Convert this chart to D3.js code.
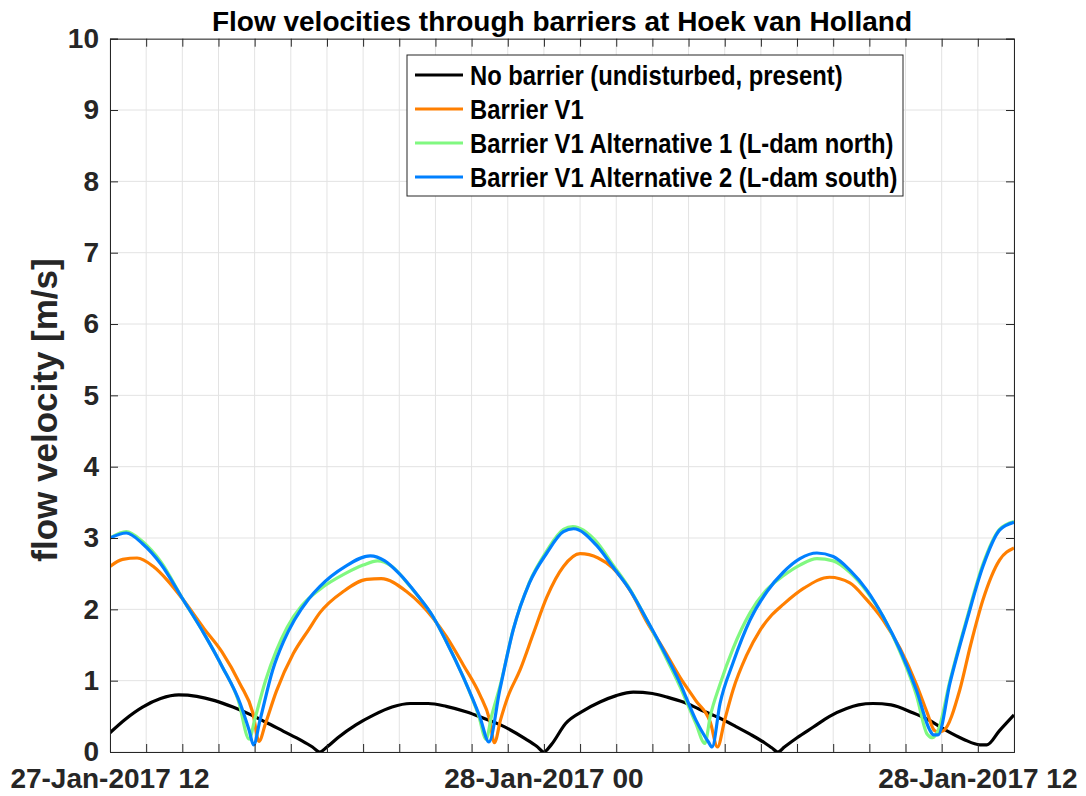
<!DOCTYPE html>
<html>
<head>
<meta charset="utf-8">
<script src="https://cdn.jsdelivr.net/npm/d3@7"></script>
<style>
  body { margin: 0; background: #fff; }
  text { font-family: "Liberation Sans", Arial, Helvetica, sans-serif; font-weight: bold; }
</style>
</head>
<body>
<div id="chart"></div>
<script>
// hours after 27-Jan-2017 12:00, velocity in m/s
var hoursNoBarrier = [0, 0.4, 0.9, 1.4, 1.9, 2.4, 2.9, 3.4, 3.9, 4.3, 4.8, 5.3, 5.6, 5.8, 6.0,
  6.3, 6.8, 7.3, 7.8, 8.3, 8.8, 9.3, 9.87, 10.3, 10.8, 11.5, 11.8, 12.0, 12.2,
  12.6, 13.1, 13.55, 14.0, 14.47, 15.0, 15.4, 15.85, 16.3, 16.8, 17.3, 17.7, 18.1, 18.3, 18.47, 18.65,
  19.0, 19.45, 19.9, 20.37, 20.7, 21.1, 21.6, 22.2, 22.6, 23.1, 23.6, 24.06, 24.25, 24.6, 25.0];
var velNoBarrier = [0.27, 0.45, 0.63, 0.75, 0.8, 0.78, 0.72, 0.63, 0.52, 0.42, 0.29, 0.16, 0.07, 0.0, 0.07,
  0.2, 0.38, 0.52, 0.63, 0.68, 0.68, 0.64, 0.56, 0.48, 0.38, 0.18, 0.08, 0.0, 0.1,
  0.4, 0.58, 0.7, 0.79, 0.84, 0.82, 0.77, 0.7, 0.6, 0.49, 0.36, 0.25, 0.13, 0.06, 0.0, 0.07,
  0.2, 0.35, 0.5, 0.61, 0.66, 0.68, 0.66, 0.55, 0.46, 0.31, 0.18, 0.1, 0.1, 0.3, 0.52];

var hoursV1 = [0, 0.35, 0.75, 1.2, 1.6, 2.03, 2.6, 3.1, 3.6, 3.95, 4.12, 4.3, 4.6, 5.07, 5.5, 5.8, 6.45, 7.1, 7.5, 8.2, 8.6, 8.93,
  9.3, 9.77, 10.23, 10.5, 10.63, 10.8, 11.0, 11.34, 11.7, 12.08, 12.54, 13.0, 13.5, 13.9, 14.4, 14.85,
  15.3, 15.76, 16.2, 16.6, 16.8, 17.0, 17.23, 17.6, 17.98, 18.3, 18.62, 19.2, 19.9, 20.46, 20.9, 21.38, 21.85,
  22.3, 22.6, 22.8, 22.9, 23.05, 23.5, 23.8, 24.14, 24.6, 25.0];
var velV1 = [2.6, 2.7, 2.72, 2.6, 2.4, 2.13, 1.73, 1.4, 0.95, 0.55, 0.15, 0.4, 0.85, 1.38, 1.72, 1.95, 2.25, 2.42, 2.43, 2.25, 2.07, 1.88,
  1.62, 1.22, 0.8, 0.45, 0.13, 0.45, 0.77, 1.15, 1.65, 2.17, 2.6, 2.78, 2.72, 2.58, 2.25, 1.82,
  1.45, 1.05, 0.72, 0.42, 0.07, 0.45, 0.87, 1.35, 1.71, 1.92, 2.07, 2.3, 2.45, 2.37, 2.15, 1.85, 1.45,
  0.95, 0.55, 0.3, 0.28, 0.3, 0.87, 1.5, 2.13, 2.69, 2.86];

var hoursAlt1 = [0, 0.45, 0.9, 1.4, 2.03, 2.6, 3.1, 3.55, 3.85, 4.0, 4.3, 4.6, 4.9, 5.3, 5.8, 6.5, 7.0, 7.4, 7.8, 8.3, 8.93,
  9.3, 9.77, 10.2, 10.4, 10.55, 10.8, 11.15, 11.6, 12.08, 12.54, 12.8, 13.45, 13.9, 14.38, 14.85,
  15.3, 15.76, 16.2, 16.45, 16.6, 16.87, 17.23, 17.7, 18.17, 18.62, 19.08, 19.55, 20.0, 20.46, 20.93, 21.38, 21.85,
  22.3, 22.6, 22.75, 22.9, 23.23, 23.7, 24.14, 24.6, 25.0];
var velAlt1 = [3.0, 3.09, 2.95, 2.67, 2.13, 1.66, 1.2, 0.72, 0.18, 0.45, 1.0, 1.42, 1.75, 2.05, 2.28, 2.5, 2.62, 2.68, 2.6, 2.32, 1.9,
  1.55, 1.05, 0.5, 0.18, 0.5, 0.95, 1.72, 2.38, 2.82, 3.12, 3.16, 2.95, 2.63, 2.28, 1.85,
  1.4, 0.92, 0.4, 0.12, 0.5, 0.95, 1.45, 1.95, 2.28, 2.47, 2.62, 2.71, 2.68, 2.52, 2.25, 1.9, 1.4,
  0.8, 0.25, 0.2, 0.3, 1.0, 1.88, 2.63, 3.12, 3.23];

var hoursAlt2 = [0, 0.45, 0.9, 1.4, 2.03, 2.6, 3.1, 3.6, 3.85, 3.97, 4.15, 4.5, 4.8, 5.1, 5.5, 5.8, 6.5, 7.2, 7.6, 8.0, 8.5, 8.93,
  9.3, 9.77, 10.23, 10.48, 10.78, 11.15, 11.6, 12.08, 12.54, 12.82, 13.45, 13.9, 14.38, 14.85,
  15.3, 15.76, 16.2, 16.55, 16.65, 16.87, 17.23, 17.7, 18.17, 18.62, 19.08, 19.55, 20.0, 20.46, 20.93, 21.38, 21.85,
  22.3, 22.68, 22.77, 22.9, 23.23, 23.7, 24.14, 24.6, 25.0];
var velAlt2 = [3.0, 3.07, 2.92, 2.64, 2.13, 1.66, 1.2, 0.68, 0.3, 0.1, 0.45, 1.15, 1.55, 1.85, 2.15, 2.32, 2.6, 2.75, 2.68, 2.5, 2.2, 1.9,
  1.55, 1.05, 0.49, 0.14, 0.87, 1.71, 2.37, 2.79, 3.09, 3.13, 2.9, 2.6, 2.27, 1.85,
  1.43, 0.97, 0.45, 0.14, 0.07, 0.68, 1.25, 1.85, 2.25, 2.52, 2.71, 2.79, 2.74, 2.55, 2.27, 1.9, 1.43,
  0.87, 0.3, 0.24, 0.24, 0.97, 1.85, 2.6, 3.11, 3.22];

var seriesNames = ["No barrier (undisturbed, present)", "Barrier V1",
  "Barrier V1 Alternative 1 (L-dam north)", "Barrier V1 Alternative 2 (L-dam south)"];
var seriesColors = ["#000000", "#ff7f00", "#80f880", "#0080ff"];

var yTicks = [0, 1, 2, 3, 4, 5, 6, 7, 8, 9, 10];
var xTickLabels = ["27-Jan-2017 12", "28-Jan-2017 00", "28-Jan-2017 12"];
var xLabelHours = [0, 12, 24];
var totalHours = 25;

var start = new Date(2017, 0, 27, 12, 0, 0);
function toDate(h) { return new Date(start.getTime() + h * 3600 * 1000); }

var width = 1086, height = 796;
var margin = { top: 38.7, left: 110, bottom: 44, right: 72 };
var chartWidth = width - margin.left - margin.right;
var chartHeight = height - margin.top - margin.bottom;
var axisColor = "#262626";

var svg = d3.select("#chart").append("svg")
  .attr("width", width).attr("height", height);

var x = d3.scaleTime().domain([start, toDate(totalHours)]).range([0, chartWidth]);
var y = d3.scaleLinear().domain([0, 10]).range([chartHeight, 0]);

var g = svg.append("g").attr("transform", "translate(" + margin.left + "," + margin.top + ")");

var hourTicks = d3.range(0, totalHours + 1).map(toDate);

// grid
g.append("g").selectAll("line").data(hourTicks).enter().append("line")
  .attr("x1", function (d) { return x(d); }).attr("x2", function (d) { return x(d); })
  .attr("y1", 0).attr("y2", chartHeight)
  .attr("stroke", "#e3e3e3").attr("stroke-width", 1);
g.append("g").selectAll("line").data(yTicks).enter().append("line")
  .attr("x1", 0).attr("x2", chartWidth)
  .attr("y1", function (d) { return y(d); }).attr("y2", function (d) { return y(d); })
  .attr("stroke", "#e3e3e3").attr("stroke-width", 1);

// lines
var allHours = [hoursNoBarrier, hoursV1, hoursAlt1, hoursAlt2];
var allVels = [velNoBarrier, velV1, velAlt1, velAlt2];
var line = d3.line()
  .x(function (d) { return x(toDate(d[0])); })
  .y(function (d) { return y(d[1]); })
  .curve(d3.curveMonotoneX);

svg.append("clipPath").attr("id", "clip").append("rect")
  .attr("width", chartWidth).attr("height", chartHeight + 2).attr("y", -1);

allHours.forEach(function (hrs, i) {
  var pts = hrs.map(function (h, j) { return [h, allVels[i][j]]; });
  g.append("path").datum(pts)
    .attr("clip-path", "url(#clip)")
    .attr("fill", "none")
    .attr("stroke", seriesColors[i])
    .attr("stroke-width", 3.2)
    .attr("stroke-linejoin", "round")
    .attr("d", line);
});

// axes (box with ticks inside on all sides)
var tickLen = 8;
var xBottom = d3.axisBottom(x).tickValues(hourTicks).tickSize(-tickLen).tickFormat("");
var xTop = d3.axisTop(x).tickValues(hourTicks).tickSize(-tickLen).tickFormat("");
var yLeft = d3.axisLeft(y).tickValues(yTicks).tickSize(-tickLen).tickPadding(11);
var yRight = d3.axisRight(y).tickValues(yTicks).tickSize(-tickLen).tickFormat("");

g.append("g").attr("transform", "translate(0," + chartHeight + ")").call(xBottom);
g.append("g").call(xTop);
var yl = g.append("g").call(yLeft);
g.append("g").attr("transform", "translate(" + chartWidth + ",0)").call(yRight);

g.selectAll(".domain").attr("stroke", axisColor).attr("stroke-width", 1);
g.selectAll(".tick line").attr("stroke", axisColor);
yl.selectAll(".tick text")
  .attr("fill", axisColor).style("font-size", "28px")
  .style("font-family", "'Liberation Sans', Arial, sans-serif").style("font-weight", "bold");

// x tick labels at 12 h spacing
g.append("g").selectAll("text").data(xLabelHours).enter().append("text")
  .attr("x", function (d) { return x(toDate(d)); })
  .attr("y", chartHeight + 36)
  .attr("text-anchor", "middle")
  .attr("fill", axisColor)
  .style("font-size", "28px")
  .text(function (d, i) { return xTickLabels[i]; });

// title
svg.append("text")
  .attr("x", margin.left + chartWidth / 2).attr("y", 31)
  .attr("text-anchor", "middle").attr("fill", "#000")
  .style("font-size", "28px")
  .text("Flow velocities through barriers at Hoek van Holland");

// y label
svg.append("text")
  .attr("transform", "translate(57,410) rotate(-90)")
  .attr("text-anchor", "middle").attr("fill", axisColor)
  .style("font-size", "35px")
  .text("flow velocity [m/s]");

// legend
var legend = svg.append("g").attr("transform", "translate(407,55)");
legend.append("rect").attr("width", 496).attr("height", 141)
  .attr("fill", "#fff").attr("stroke", axisColor).attr("stroke-width", 1);
seriesNames.forEach(function (name, i) {
  var row = legend.append("g").attr("transform", "translate(0," + (20 + i * 34) + ")");
  row.append("line").attr("x1", 8).attr("x2", 56).attr("y1", 0).attr("y2", 0)
    .attr("stroke", seriesColors[i]).attr("stroke-width", 3.2);
  row.append("text").attr("transform", "translate(63,0) scale(0.85,1)")
    .attr("dy", "0.36em")
    .attr("fill", "#000").style("font-size", "28px").text(name);
});
</script>
</body>
</html>
